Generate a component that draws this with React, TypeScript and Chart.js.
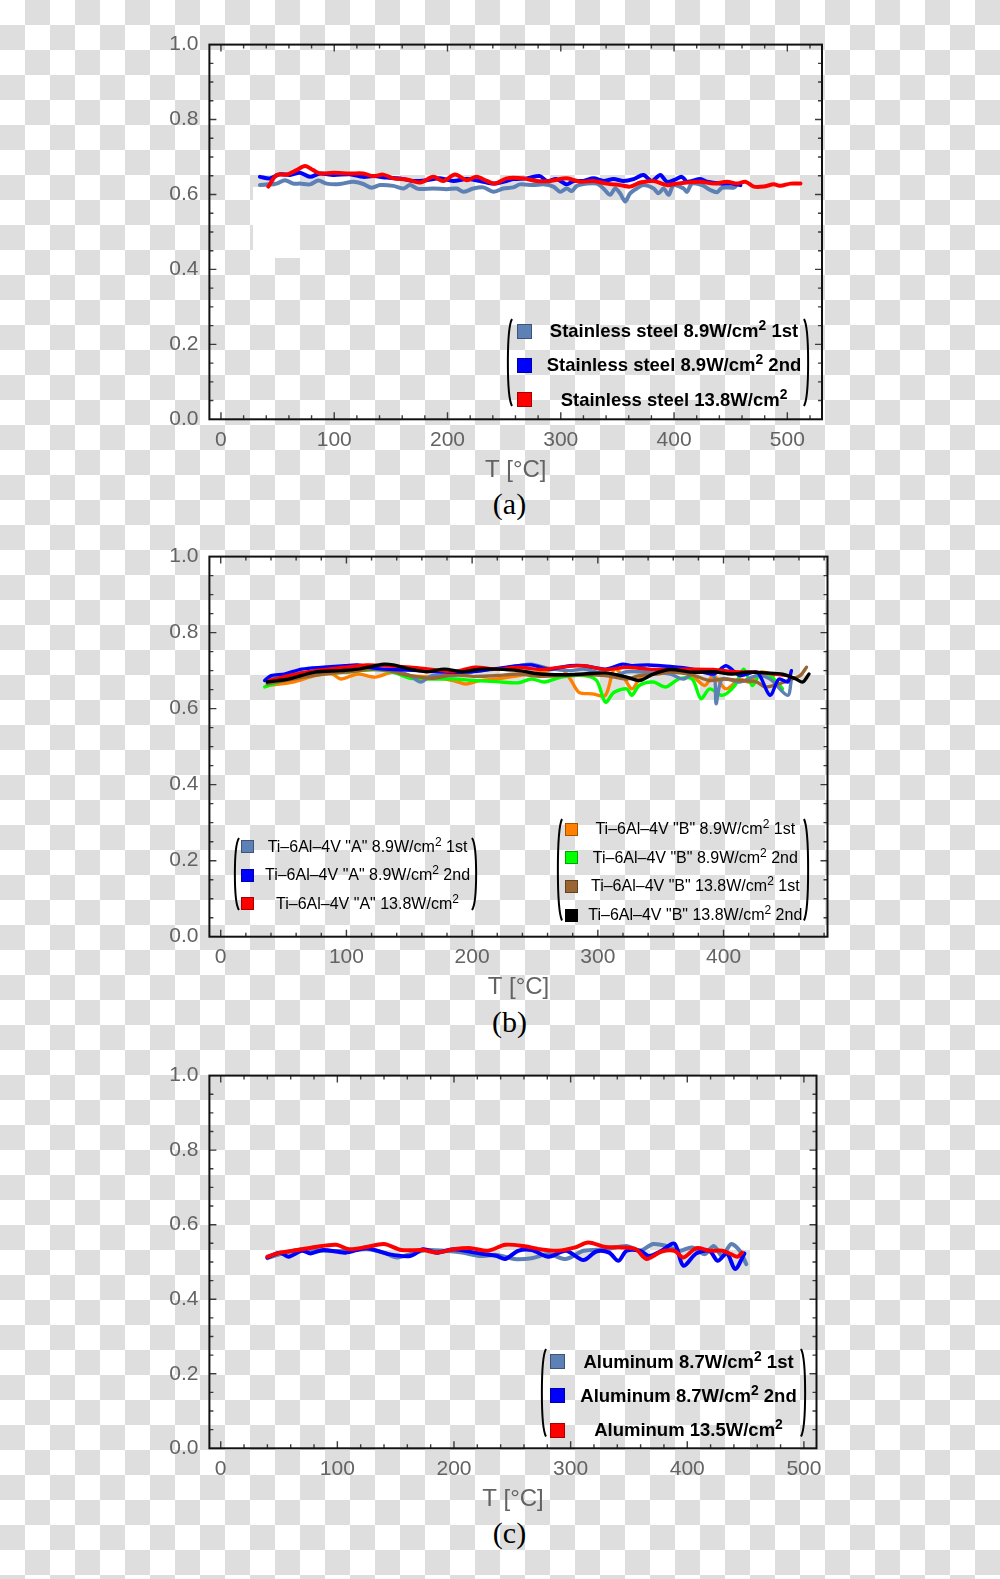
import React, { useEffect, useRef } from 'react';
import { Chart, registerables } from 'chart.js';

Chart.register(...registerables);

type Pt = [number, number];

// ---------------- Panel (a): stainless steel -----------------
const ss89first: Pt[] = [[34.4,.625],[41.8,.627],[49.1,.629],[56.5,.638],[63.9,.629],[69.8,.629],[78.6,.627],[85.9,.637],[93.3,.629],[105,.628],[116.8,.634],[125.6,.628],[133,.618],[140.4,.625],[152.1,.623],[161,.616],[166.9,.625],[174.2,.615],[187.5,.616],[199.3,.614],[208.1,.616],[214,.607],[222.8,.616],[231.6,.619],[240.5,.607],[249.3,.616],[258.1,.619],[264,.627],[275.8,.625],[284.6,.627],[293.5,.621],[299.4,.607],[305.3,.616],[309.7,.609],[314.1,.623],[323,.629],[331.8,.629],[337.7,.616],[343.6,.599],[348,.616],[352.4,.603],[356.8,.581],[361.2,.603],[367.1,.616],[373,.625],[381.9,.616],[386.3,.603],[390.7,.616],[395.2,.599],[399.6,.625],[408.4,.616],[411.4,.607],[415.8,.629],[424.7,.625],[432,.612],[438,.606],[442.4,.618],[452.7,.618],[454.2,.621]];
const ss89second: Pt[] = [[34.4,.647],[43.3,.643],[52.1,.654],[60.9,.652],[69.8,.658],[78.6,.647],[87.4,.656],[99.2,.652],[113.9,.654],[125.6,.647],[134.5,.649],[146.3,.645],[158,.643],[169.8,.636],[181.6,.638],[193.4,.643],[205.1,.636],[216.9,.641],[228.7,.636],[240.5,.629],[252.2,.636],[258.1,.641],[269.9,.643],[281.7,.649],[287.6,.636],[296.4,.641],[305.3,.627],[311.2,.636],[320,.636],[328.9,.643],[337.7,.636],[346.5,.641],[355.4,.636],[364.2,.641],[373,.652],[380.4,.636],[387.8,.652],[393.7,.634],[399.6,.638],[407,.647],[411.4,.634],[423.2,.641],[429.1,.634],[440.9,.629],[449.7,.629],[458.6,.625]];
const ss138: Pt[] = [[41.8,.621],[49.1,.652],[58,.653],[66.8,.665],[74.2,.676],[81.5,.665],[87.4,.656],[99.2,.658],[113.9,.656],[125.6,.656],[134.5,.649],[143.3,.653],[152.1,.643],[164,.640],[175.7,.632],[187.5,.647],[196.3,.636],[206.6,.653],[216.9,.638],[225.7,.647],[234.6,.636],[241.9,.629],[252.2,.643],[267,.643],[278.7,.636],[290.5,.636],[305.3,.643],[317.1,.634],[328.9,.636],[340.6,.629],[352.4,.625],[361.2,.621],[370.1,.632],[381.9,.636],[393.7,.625],[402.5,.629],[411.4,.632],[423.2,.634],[435,.629],[446.8,.634],[455.6,.629],[463,.634],[470.3,.621],[479.2,.621],[488,.627],[493.9,.623],[502.7,.629],[511.6,.629]];

// ---------------- Panel (b): Ti-6Al-4V -----------------
const tiA89first: Pt[] = [[35,.674],[47,.687],[68,.696],[88.6,.704],[109,.704],[137,.700],[150.7,.687],[159,.670],[168,.687],[185,.687],[206,.700],[219.7,.704],[237,.713],[247,.717],[261,.706],[278,.700],[288.6,.704],[299,.696],[313,.687],[323,.697],[340,.696],[357.6,.691],[368,.678],[378,.696],[392,.687],[394,.613],[399,.678],[413,.670],[426.6,.687],[437,.678],[451,.635],[454,.678]];
const tiA89second: Pt[] = [[35,.674],[40,.687],[50.7,.691],[64.5,.704],[81.7,.709],[99,.713],[109,.715],[123,.706],[137,.703],[157.6,.700],[178,.696],[199,.697],[216,.704],[237,.713],[247,.715],[261,.704],[278,.713],[288.6,.713],[306,.704],[319.7,.717],[327,.713],[340,.715],[357.6,.711],[375,.704],[392,.691],[402,.713],[413,.687],[426.6,.696],[437,.635],[444,.678],[451,.670],[454,.700]];
const tiA138: Pt[] = [[38.6,.674],[54,.687],[75,.700],[99,.709],[116,.715],[133.4,.713],[150.7,.709],[168,.703],[185,.697],[202,.709],[219.7,.704],[237,.709],[254,.703],[271,.709],[288.6,.713],[306,.703],[323,.709],[340,.704],[357.6,.703],[375,.704],[392,.703],[409,.697],[426.6,.696],[440,.691],[451,.687]];
const tiB89first: Pt[] = [[37,.661],[57.6,.670],[75,.687],[88.6,.691],[95.5,.678],[109,.691],[123,.683],[137,.696],[150.7,.687],[168,.683],[185,.674],[195,.665],[206,.674],[219.7,.678],[237,.687],[254,.696],[271,.704],[278,.678],[285,.643],[295.5,.639],[306,.635],[313,.704],[319.7,.687],[327,.652],[333,.678],[340,.696],[351,.704],[364.5,.700],[375,.687],[385,.661],[392,.687],[402,.652],[413,.678],[420,.670],[430,.696],[440,.687]];
const tiB89second: Pt[] = [[35,.657],[54,.678],[75,.691],[99,.696],[123,.703],[137,.696],[150.7,.680],[168,.678],[185,.678],[202,.674],[219.7,.671],[237,.668],[247,.678],[257.6,.670],[271,.683],[288.6,.687],[299,.674],[306,.617],[313,.643],[323,.652],[327,.635],[333,.661],[344,.670],[354,.657],[364.5,.678],[375,.678],[382,.626],[389,.652],[399,.635],[409,.661],[416,.704],[423,.661],[430,.696],[440,.678],[447,.652]];
const tiB138first: Pt[] = [[37,.665],[57.6,.678],[81.7,.691],[99,.696],[123,.704],[133.4,.700],[150.7,.687],[168,.680],[185,.689],[202,.685],[219.7,.687],[237,.691],[254,.685],[271,.687],[288.6,.689],[306,.687],[323,.678],[333,.687],[347,.691],[357.6,.696],[375,.689],[388.6,.674],[399,.678],[413,.674],[426.6,.670],[433,.657],[444,.665],[454,.678],[461,.687],[466,.709]];
const tiB138second: Pt[] = [[37,.670],[54,.678],[75,.696],[95.5,.700],[109,.704],[130,.717],[137,.715],[150.7,.704],[164,.697],[178,.704],[192,.697],[206,.704],[219.7,.704],[237,.700],[254,.691],[271,.689],[288.6,.691],[306,.694],[323,.683],[333,.674],[344,.691],[357.6,.703],[375,.696],[392,.697],[406,.691],[420,.696],[433,.694],[447,.691],[457.6,.678],[463,.670],[468,.691]];

// ---------------- Panel (c): aluminum -----------------
const al87first: Pt[] = [[40,.510],[51,.521],[69.5,.534],[88,.530],[107,.530],[125,.534],[140,.525],[151,.512],[162.5,.521],[177,.532],[192,.530],[207,.525],[222,.516],[236.8,.519],[251.7,.508],[266.5,.510],[281,.521],[296,.508],[311,.530],[330,.534],[348,.543],[359.5,.530],[370.6,.548],[382,.543],[393,.530],[404,.539],[415,.521],[422.7,.543],[430,.516],[437.5,.548],[445,.530],[450.6,.494]];
const al87second: Pt[] = [[40,.512],[51,.525],[58,.514],[69.5,.530],[77,.523],[88,.532],[107,.525],[125,.537],[144,.521],[162.5,.516],[173.6,.534],[185,.525],[199.6,.534],[218,.525],[236.8,.516],[244,.508],[255,.530],[266.5,.532],[281,.514],[296,.530],[311,.505],[322,.528],[333,.525],[341,.503],[348,.530],[359.5,.530],[367,.516],[378,.530],[389,.549],[396.6,.490],[407.8,.523],[419,.530],[426,.503],[434,.523],[441,.481],[449,.523]];
const al135: Pt[] = [[40,.514],[51,.525],[66,.532],[81,.540],[99,.546],[110,.534],[125,.540],[140,.548],[155,.532],[173.6,.532],[185,.525],[199.6,.534],[214.5,.537],[229,.530],[244,.546],[259,.543],[274,.534],[289,.530],[304,.539],[315,.552],[330,.540],[344.6,.539],[356,.534],[365,.508],[378,.528],[389,.530],[396.6,.512],[407.8,.537],[419,.530],[430,.530],[437.5,.521],[443,.514],[447,.525]];

// ---------------- ticks & labels -----------------
const xTicksA = [0, 100, 200, 300, 400, 500];
const xTicksB = [0, 100, 200, 300, 400];
const xTicksC = [0, 100, 200, 300, 400, 500];
const yTicks = [0, 0.2, 0.4, 0.6, 0.8, 1.0];
const xTitle = 'T [°C]';

const labelsA: [string, string, string][] = [
  ['Stainless steel 8.9W/cm', '2', ' 1st'],
  ['Stainless steel 8.9W/cm', '2', ' 2nd'],
  ['Stainless steel 13.8W/cm', '2', ''],
];
const labelsB1: [string, string, string][] = [
  ['Ti\u20136Al\u20134V "A" 8.9W/cm', '2', ' 1st'],
  ['Ti\u20136Al\u20134V "A" 8.9W/cm', '2', ' 2nd'],
  ['Ti\u20136Al\u20134V "A" 13.8W/cm', '2', ''],
];
const labelsB2: [string, string, string][] = [
  ['Ti\u20136Al\u20134V "B" 8.9W/cm', '2', ' 1st'],
  ['Ti\u20136Al\u20134V "B" 8.9W/cm', '2', ' 2nd'],
  ['Ti\u20136Al\u20134V "B" 13.8W/cm', '2', ' 1st'],
  ['Ti\u20136Al\u20134V "B" 13.8W/cm', '2', ' 2nd'],
];
const labelsC: [string, string, string][] = [
  ['Aluminum 8.7W/cm', '2', ' 1st'],
  ['Aluminum 8.7W/cm', '2', ' 2nd'],
  ['Aluminum 13.5W/cm', '2', ''],
];

// ---------------- styles -----------------
const SLATE = '#5E81B5';
const BLUE = '#0000FF';
const RED = '#FF0000';
const ORANGE = '#FF8000';
const GREEN = '#00FF00';
const BROWN = '#996633';
const BLACK = '#000000';
const GRAY = '#636363';
const FONT = '"Liberation Sans", Arial, Helvetica, sans-serif';
const TICK_SIZE = 21;
const TITLE_SIZE = 24;

interface SeriesDef { color: string; data: Pt[]; order: number }
interface LegendDef {
  bl: number; br: number; top: number; bottom: number;
  swatchX: number; swatch: number; textCx: number; fontSize: number; bold: boolean;
  rowsY: number[]; colors: string[]; labels: [string, string, string][];
}
interface PanelDef {
  l: number; r: number; t: number; b: number;
  xMin: number; xMax: number; xTicks: number[];
  lineWidth: number; series: SeriesDef[]; legends: LegendDef[];
  caption: string; captionY: number;
}

const panels: PanelDef[] = [
  {
    l: 209.4, r: 822, t: 41, b: 419.3, xMin: -10.2, xMax: 530.6, xTicks: xTicksA, lineWidth: 4,
    series: [
      { color: SLATE, data: ss89first, order: 2 },
      { color: BLUE, data: ss89second, order: 1 },
      { color: RED, data: ss138, order: 0 },
    ],
    legends: [{ bl: 506, br: 802.5, top: 318, bottom: 407, swatchX: 516.5, swatch: 15, textCx: 674, fontSize: 18.5, bold: true,
      rowsY: [331, 365, 399.5], colors: [SLATE, BLUE, RED], labels: labelsA }],
    caption: '(a)', captionY: 503.5,
  },
  {
    l: 209.4, r: 827.5, t: 553.5, b: 936.7, xMin: -9.0, xMax: 482.7, xTicks: xTicksB, lineWidth: 3.4,
    series: [
      { color: SLATE, data: tiA89first, order: 4 },
      { color: BLUE, data: tiA89second, order: 2 },
      { color: RED, data: tiA138, order: 1 },
      { color: ORANGE, data: tiB89first, order: 6 },
      { color: GREEN, data: tiB89second, order: 5 },
      { color: BROWN, data: tiB138first, order: 3 },
      { color: BLACK, data: tiB138second, order: 0 },
    ],
    legends: [
      { bl: 232.5, br: 470.5, top: 836.5, bottom: 910.5, swatchX: 241, swatch: 13, textCx: 367.5, fontSize: 16, bold: false,
        rowsY: [846.5, 875, 903.5], colors: [SLATE, BLUE, RED], labels: labelsB1 },
      { bl: 555.5, br: 802.5, top: 818, bottom: 921.5, swatchX: 565, swatch: 13, textCx: 695.3, fontSize: 16, bold: false,
        rowsY: [829, 857.5, 886, 915], colors: [ORANGE, GREEN, BROWN, BLACK], labels: labelsB2 },
    ],
    caption: '(b)', captionY: 1022,
  },
  {
    l: 209.4, r: 816.5, t: 1072.7, b: 1448.3, xMin: -9.7, xMax: 510.8, xTicks: xTicksC, lineWidth: 4,
    series: [
      { color: SLATE, data: al87first, order: 2 },
      { color: BLUE, data: al87second, order: 1 },
      { color: RED, data: al135, order: 0 },
    ],
    legends: [{ bl: 539.5, br: 800, top: 1348, bottom: 1437.5, swatchX: 550, swatch: 15, textCx: 688.5, fontSize: 18.5, bold: true,
      rowsY: [1361.5, 1395.5, 1430], colors: [SLATE, BLUE, RED], labels: labelsC }],
    caption: '(c)', captionY: 1532.7,
  },
];

const CAPTION_X = 509.5;

const framePlugin = {
  id: 'frame',
  afterDraw(chart: any, _args: any, opts: any) {
    const { ctx, chartArea } = chart;
    const { left, right, top, bottom } = chartArea;
    const xs = chart.scales.x;
    const ys = chart.scales.y;
    ctx.save();
    ctx.strokeStyle = '#3c3c3c';
    ctx.lineWidth = 1.4;
    ctx.beginPath();
    const xMaj: number[] = opts.xMajor;
    for (let v = 0; v <= xs.max; v += 20) {
      const isMaj = xMaj.includes(v);
      const len = isMaj ? 7 : 4;
      const px = xs.getPixelForValue(v);
      if (px < left + 1 || px > right - 1) continue;
      ctx.moveTo(px, bottom); ctx.lineTo(px, bottom - len);
      ctx.moveTo(px, top); ctx.lineTo(px, top + len);
    }
    for (let i = 1; i < 20; i++) {
      const v = i * 0.05;
      const len = i % 4 === 0 ? 7 : 4;
      const py = ys.getPixelForValue(v);
      ctx.moveTo(left, py); ctx.lineTo(left + len, py);
      ctx.moveTo(right, py); ctx.lineTo(right - len, py);
    }
    ctx.stroke();
    ctx.strokeStyle = '#111111';
    ctx.lineWidth = 2;
    ctx.strokeRect(left, top, right - left, bottom - top);
    ctx.restore();
  },
};

function PanelChart({ def }: { def: PanelDef }) {
  const ref = useRef<HTMLCanvasElement>(null);
  const canvasTop = Math.floor(def.t) - 20;
  const H = Math.ceil(def.b + 67) - canvasTop;
  useEffect(() => {
    const padTop = def.t - canvasTop;
    const xAxisH = canvasTop + H - def.b;
    const titleLH = TITLE_SIZE * 1.2;
    const titlePadBottom = Math.max(0, xAxisH - 51 - titleLH / 2);
    const chart = new Chart(ref.current as HTMLCanvasElement, {
      type: 'line',
      data: {
        datasets: def.series.map((s) => ({
          data: s.data.map(([x, y]) => ({ x, y })),
          borderColor: s.color,
          backgroundColor: s.color,
          borderWidth: def.lineWidth,
          pointRadius: 0,
          tension: 0.3,
          fill: false,
          order: s.order,
          borderJoinStyle: 'round',
          borderCapStyle: 'round',
        })),
      },
      options: {
        animation: false,
        responsive: false,
        maintainAspectRatio: false,
        devicePixelRatio: 1,
        layout: { padding: { left: def.l - 60, right: 1000 - def.r, top: padTop, bottom: 0 } },
        plugins: {
          legend: { display: false },
          tooltip: { enabled: false },
          frame: { xMajor: def.xTicks },
        } as any,
        scales: {
          x: {
            type: 'linear',
            min: def.xMin,
            max: def.xMax,
            afterBuildTicks: (s: any) => { s.ticks = def.xTicks.map((v) => ({ value: v })); },
            afterFit: (s: any) => { s.height = xAxisH; },
            grid: { display: false, drawTicks: false },
            border: { display: false },
            ticks: { color: GRAY, font: { family: FONT, size: TICK_SIZE }, padding: 8, maxRotation: 0, autoSkip: false,
              callback: (v: any) => String(v) },
            title: { display: true, text: xTitle, color: GRAY, font: { family: FONT, size: TITLE_SIZE }, padding: { top: 0, bottom: titlePadBottom } },
          },
          y: {
            type: 'linear',
            min: 0,
            max: 1,
            afterBuildTicks: (s: any) => { s.ticks = yTicks.map((v) => ({ value: v })); },
            afterFit: (s: any) => { s.width = 60; },
            grid: { display: false, drawTicks: false },
            border: { display: false },
            ticks: { color: GRAY, font: { family: FONT, size: TICK_SIZE }, padding: 11, autoSkip: false,
              callback: (v: any) => Number(v).toFixed(1) },
          },
        },
      } as any,
      plugins: [framePlugin as any],
    });
    return () => chart.destroy();
  }, []);
  return (
    <canvas ref={ref} width={1000} height={H}
      style={{ position: 'absolute', left: 0, top: canvasTop, width: 1000, height: H, display: 'block' }} />
  );
}

function Paren({ x, top, bottom, right }: { x: number; top: number; bottom: number; right?: boolean }) {
  const w = 7;
  const h = bottom - top;
  const d = right
    ? `M 1 1 C ${w - 0.5} ${h * 0.12}, ${w - 0.5} ${h * 0.88}, 1 ${h - 1}`
    : `M ${w - 1} 1 C 0.5 ${h * 0.12}, 0.5 ${h * 0.88}, ${w - 1} ${h - 1}`;
  return (
    <svg width={w} height={h} style={{ position: 'absolute', left: x, top, overflow: 'visible' }}>
      <path d={d} fill="none" stroke="#000" strokeWidth={2} />
    </svg>
  );
}

function Legend({ def }: { def: LegendDef }) {
  return (
    <>
      <Paren x={def.bl} top={def.top} bottom={def.bottom} />
      <Paren x={def.br} top={def.top} bottom={def.bottom} right />
      {def.rowsY.map((y, i) => (
        <React.Fragment key={i}>
          <div style={{ position: 'absolute', left: def.swatchX, top: y - def.swatch / 2, width: def.swatch, height: def.swatch,
            background: def.colors[i], border: '1px solid rgba(0,0,0,0.35)', boxSizing: 'border-box' }} />
          <div style={{ position: 'absolute', left: def.textCx - 200, top: y - 11, width: 400, height: 22, lineHeight: '22px',
            textAlign: 'center', fontFamily: FONT, fontSize: def.fontSize, fontWeight: def.bold ? 'bold' : 'normal',
            color: '#000', whiteSpace: 'nowrap' }}>
            {def.labels[i][0]}
            <span style={{ fontSize: '0.75em', position: 'relative', top: '-0.5em' }}>{def.labels[i][1]}</span>
            {def.labels[i][2]}
          </div>
        </React.Fragment>
      ))}
    </>
  );
}

export default function App() {
  return (
    <div style={{
      position: 'absolute', left: 0, top: 0, width: 1000, height: 1579, overflow: 'hidden',
      backgroundColor: '#fff',
      backgroundImage: 'conic-gradient(#dedede 0 25%, #ffffff 0 50%, #dedede 0 75%, #ffffff 0)',
      backgroundSize: '50px 50px',
    }}>
      <div style={{ position: 'absolute', left: 253, top: 187, width: 47, height: 71, background: '#fff' }} />
      {panels.map((p, i) => (
        <React.Fragment key={i}>
          <PanelChart def={p} />
          {p.legends.map((lg, j) => <Legend key={j} def={lg} />)}
          <div style={{ position: 'absolute', left: CAPTION_X - 100, width: 200, top: p.captionY - 17, height: 34,
            lineHeight: '34px', textAlign: 'center', fontFamily: '"Liberation Serif", "Times New Roman", serif',
            fontSize: 30, color: '#000' }}>{p.caption}</div>
        </React.Fragment>
      ))}
    </div>
  );
}
